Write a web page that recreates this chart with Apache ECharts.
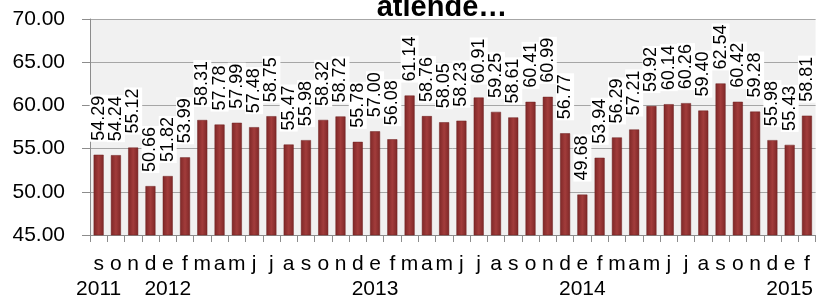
<!DOCTYPE html>
<html>
<head>
<meta charset="utf-8">
<script src="https://cdn.jsdelivr.net/npm/echarts@6/dist/echarts.min.js"></script>
<style>
  html, body { margin: 0; padding: 0; background: #fff; }
  #chart { width: 816px; height: 302px; }
</style>
</head>
<body>
<div id="chart"></div>
<script>
// meses (s 2011 ... f 2015)
const months = ['s', 'o', 'n', 'd',
  'e', 'f', 'm', 'a', 'm', 'j', 'j', 'a', 's', 'o', 'n', 'd',
  'e', 'f', 'm', 'a', 'm', 'j', 'j', 'a', 's', 'o', 'n', 'd',
  'e', 'f', 'm', 'a', 'm', 'j', 'j', 'a', 's', 'o', 'n', 'd',
  'e', 'f']
// año que se escribe debajo de algunos meses
const years = {0: '2011', 4: '2012', 16: '2013', 28: '2014', 40: '2015'}
const values = [54.29, 54.24, 55.12, 50.66,
  51.82, 53.99, 58.31, 57.78, 57.99, 57.48, 58.75, 55.47, 55.98, 58.32, 58.72, 55.78,
  57.00, 56.08, 61.14, 58.76, 58.05, 58.23, 60.91, 59.25, 58.61, 60.41, 60.99, 56.77,
  49.68, 53.94, 56.29, 57.21, 59.92, 60.14, 60.26, 59.40, 62.54, 60.42, 59.28, 55.98,
  55.43, 58.81]
const yTicks = [45, 50, 55, 60, 65, 70]
const title = 'atiende…'

const categories = months.map((m, i) => years[i] ? m + '\n' + years[i] : m)

const chart = echarts.init(document.getElementById('chart'))
const font = "'Liberation Sans', Arial, sans-serif"

const option = {
  animation: false,
  textStyle: { fontFamily: font },
  title: {
    text: title,
    left: 437,
    top: -12,
    textAlign: 'center',
    textStyle: { fontSize: 29, fontWeight: 'bold', color: '#000', fontFamily: font }
  },
  grid: {
    left: 90,
    right: -2,
    top: 19,
    bottom: 64,
    show: true,
    backgroundColor: '#f1f1f1',
    borderWidth: 0
  },
  xAxis: {
    type: 'category',
    data: categories,
    axisLine: { lineStyle: { color: '#8c8c8c', width: 1 } },
    axisTick: { show: true, interval: 0, length: 7, lineStyle: { color: '#8c8c8c' } },
    axisLabel: {
      interval: 0,
      margin: 17,
      fontSize: 21,
      lineHeight: 25,
      color: '#000',
      fontFamily: font
    }
  },
  yAxis: {
    type: 'value',
    min: yTicks[0],
    max: yTicks[yTicks.length - 1],
    interval: 5,
    axisLine: { show: true, lineStyle: { color: '#8c8c8c' } },
    axisTick: { show: true, length: 8, lineStyle: { color: '#8c8c8c' } },
    axisLabel: {
      margin: 25,
      fontSize: 21,
      color: '#000',
      fontFamily: font,
      formatter: v => v.toFixed(2)
    },
    splitLine: { lineStyle: { color: '#a6a6a6', width: 1 } }
  },
  series: [{
    type: 'bar',
    data: values,
    barWidth: 10,
    itemStyle: {
      color: new echarts.graphic.LinearGradient(0, 0, 1, 0, [
        { offset: 0, color: '#7e2727' },
        { offset: 0.5, color: '#a23c3b' },
        { offset: 1, color: '#7e2727' }
      ]),
      borderColor: '#6e2020',
      borderWidth: 0.5
    },
    label: {
      show: true,
      position: 'top',
      distance: 13,
      rotate: 90,
      align: 'left',
      verticalAlign: 'middle',
      fontSize: 18,
      color: '#000',
      fontFamily: font,
      backgroundColor: '#fff',
      padding: [0, 1],
      formatter: p => p.value.toFixed(2)
    }
  }]
}

chart.setOption(option)
</script>
</body>
</html>
